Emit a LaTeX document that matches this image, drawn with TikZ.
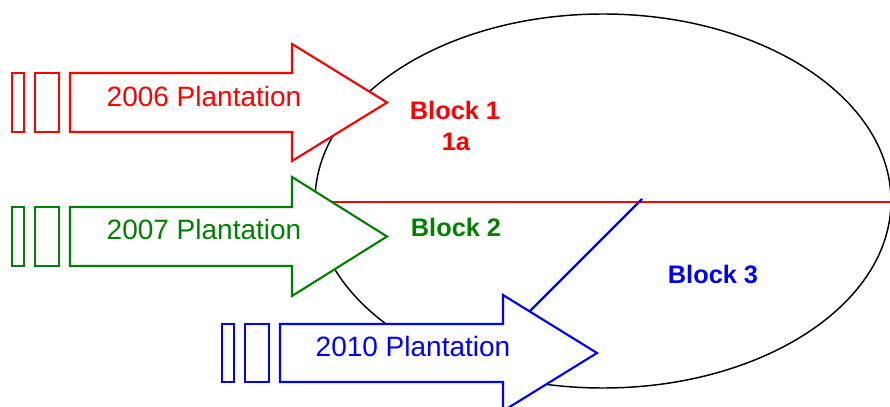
\documentclass[tikz,border=0pt]{standalone}
\usepackage{fontspec}
\setmainfont{Liberation Sans}
\usepackage{tikz}
\definecolor{plred}{RGB}{255,0,0}
\definecolor{plgreen}{RGB}{0,128,0}
\definecolor{plblue}{RGB}{0,0,255}
\tikzset{plant/.style={line width=1.6pt,fill=white,line join=miter},
    plantlabel/.style={inner sep=0pt,font=\fontsize{21}{24}\selectfont},
    blocklabel/.style={inner sep=0pt,font=\fontsize{19}{22}\selectfont\bfseries}}

\begin{document}
\begin{tikzpicture}[x=0.75pt,y=0.75pt,yscale=-1,xscale=1]
\useasboundingbox (0,0) rectangle (890,407);

%Ellipse
\draw [line width=1.1pt] (603,201) ellipse (288 and 187);
%Straight Lines
\draw [draw=plred,line width=1.7pt] (315,202) -- (891,202) ;
%Straight Lines
\draw [draw=plblue,line width=1.6pt] (642,199) -- (520,321) ;

%Right Arrow 2006
\draw [plant,draw=plred] (12,73) rectangle (24,132) ;
\draw [plant,draw=plred] (35,73) rectangle (59,132) ;
\draw [plant,draw=plred] (70,73) -- (292,73) -- (292,44) -- (387,102.5) -- (292,161) -- (292,132) -- (70,132) -- cycle ;
%Right Arrow 2007
\draw [plant,draw=plgreen] (12,207) rectangle (24,266) ;
\draw [plant,draw=plgreen] (35,207) rectangle (59,266) ;
\draw [plant,draw=plgreen] (70,207) -- (292,207) -- (292,177) -- (387,236.5) -- (292,296) -- (292,266) -- (70,266) -- cycle ;
%Right Arrow 2010
\draw [plant,draw=plblue] (222,324) rectangle (234,382) ;
\draw [plant,draw=plblue] (245,324) rectangle (269,382) ;
\draw [plant,draw=plblue] (280,324) -- (503,324) -- (503,295) -- (597,353) -- (503,411) -- (503,382) -- (280,382) -- cycle ;

% labels
\node [plantlabel,text=plred] (p2006) at (204,96) {2006 Plantation};
\node [plantlabel,text=plgreen] (p2007) at (204,229) {2007 Plantation};
\node [plantlabel,text=plblue] (p2010) at (413,346) {2010 Plantation};

\node [blocklabel,text=plred] (blk1) at (455,110) {Block 1};
\node [blocklabel,text=plred] (blk1a) at (456,142) {1a};
\node [blocklabel,text=plgreen] (blk2) at (456,227) {Block 2};
\node [blocklabel,text=plblue] (blk3) at (713,274) {Block 3};

\end{tikzpicture}
\end{document}
